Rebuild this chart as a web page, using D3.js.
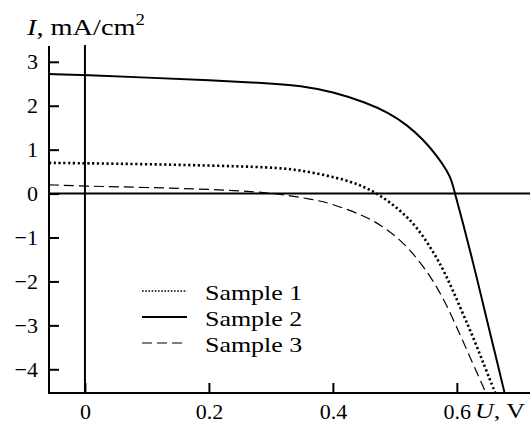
<!DOCTYPE html>
<head>
  <meta charset="utf-8">
  <script src="https://unpkg.com/d3@7/dist/d3.min.js"></script>
  <style>
    body { margin: 0; background: #fff; }
    svg text { font-family: "Liberation Serif", "DejaVu Serif", serif; fill: #000; }
  </style>
</head>
<body>
  <svg width="530" height="424"></svg>
  <script>
    // values: U in V, I in mA/cm2
    var sample1U = [-0.058, 0, 0.1, 0.2, 0.3, 0.347, 0.411, 0.444, 0.476, 0.508, 0.535, 0.562, 0.583, 0.605, 0.626, 0.645, 0.662];
    var sample1I = [0.70, 0.69, 0.67, 0.64, 0.60, 0.54, 0.35, 0.20, -0.03, -0.37, -0.75, -1.32, -1.86, -2.58, -3.26, -3.94, -4.54];

    var sample2U = [-0.058, 0, 0.1, 0.2, 0.3, 0.347, 0.4, 0.454, 0.49, 0.52, 0.545, 0.568, 0.585, 0.592, 0.597, 0.610, 0.624, 0.637, 0.650, 0.664, 0.677];
    var sample2I = [2.72, 2.70, 2.64, 2.58, 2.51, 2.46, 2.32, 2.07, 1.84, 1.56, 1.24, 0.86, 0.50, 0.28, 0, -0.68, -1.45, -2.2, -2.97, -3.77, -4.54];

    var sample3U = [-0.058, 0, 0.1, 0.2, 0.3, 0.374, 0.395, 0.449, 0.48, 0.508, 0.535, 0.562, 0.583, 0.605, 0.626, 0.647];
    var sample3I = [0.20, 0.17, 0.14, 0.10, 0.03, -0.15, -0.22, -0.49, -0.74, -1.04, -1.45, -1.98, -2.52, -3.2, -3.88, -4.54];

    var seriesNames = ["Sample 1", "Sample 2", "Sample 3"];
    var xTicks = [0, 0.2, 0.4, 0.6];
    var yTicks = [-4, -3, -2, -1, 0, 1, 2, 3];

    var svg = d3.select("svg");

    var x = d3.scaleLinear().domain([-0.058, 0.718]).range([49, 530]);
    var y = d3.scaleLinear().domain([-4.54, 3.36]).range([393, 46]);

    var styles = [
      { width: 2.6, dash: "2.2,2.6" },
      { width: 2, dash: null },
      { width: 1.2, dash: "10,5" }
    ];

    var series = [
      d3.zip(sample1U, sample1I),
      d3.zip(sample2U, sample2I),
      d3.zip(sample3U, sample3I)
    ];

    svg.append("clipPath").attr("id", "plot")
      .append("rect")
        .attr("x", 49).attr("y", 30)
        .attr("width", 481).attr("height", 363);

    // zero lines
    svg.append("line")
      .attr("x1", 49).attr("x2", 530)
      .attr("y1", y(0)).attr("y2", y(0))
      .attr("stroke", "#000").attr("stroke-width", 2);
    svg.append("line")
      .attr("x1", x(0)).attr("x2", x(0))
      .attr("y1", 45).attr("y2", 393)
      .attr("stroke", "#000").attr("stroke-width", 2);

    // basis spline smooths the hand-read points
    var line = d3.line()
      .x(function (d) { return x(d[0]); })
      .y(function (d) { return y(d[1]); })
      .curve(d3.curveBasis);

    svg.append("g").attr("clip-path", "url(#plot)")
      .selectAll("path")
      .data(series)
      .enter().append("path")
        .attr("d", line)
        .attr("fill", "none")
        .attr("stroke", "#000")
        .attr("stroke-width", function (d, i) { return styles[i].width; })
        .attr("stroke-dasharray", function (d, i) { return styles[i].dash; });

    // axes, ticks pointing inward
    var xAxis = d3.axisBottom(x)
      .tickValues(xTicks)
      .tickSizeInner(-10).tickSizeOuter(0).tickPadding(10)
      .tickFormat(function (d) { return d === 0 ? "0" : d3.format(".1f")(d); });
    var yAxis = d3.axisLeft(y)
      .tickValues(yTicks)
      .tickSizeInner(-10).tickSizeOuter(0).tickPadding(11)
      .tickFormat(d3.format("d"));

    var gx = svg.append("g").attr("transform", "translate(0,393)").call(xAxis);
    var gy = svg.append("g").attr("transform", "translate(49,0)").call(yAxis);
    gy.select(".domain").attr("d", "M0,46V393");
    gx.select(".domain").attr("d", "M48,0H530");

    [gx, gy].forEach(function (g) {
      g.selectAll(".domain, .tick line").attr("stroke", "#000").attr("stroke-width", 2);
      g.selectAll("text").attr("font-size", 22)
        .attr("font-family", "Liberation Serif, serif").attr("fill", "#000");
    });

    // axis titles (the printed labels are a little wider than the font)
    var yt = svg.append("text").attr("transform", "translate(27,35) scale(1.18,1)").attr("font-size", 24);
    yt.append("tspan").attr("font-style", "italic").text("I");
    yt.append("tspan").text(", mA/cm");
    yt.append("tspan").attr("font-size", 16).attr("dy", -10).text("2");

    var xt = svg.append("text").attr("transform", "translate(475,418) scale(1.18,1)").attr("font-size", 22);
    xt.append("tspan").attr("font-style", "italic").text("U");
    xt.append("tspan").text(", V");

    // legend
    var legend = svg.append("g").selectAll("g")
      .data(seriesNames)
      .enter().append("g")
        .attr("transform", function (d, i) { return "translate(0," + (300 + i * 26) + ")"; });
    legend.append("line")
      .attr("x1", 142).attr("x2", 187)
      .attr("y1", -9).attr("y2", -9)
      .attr("stroke", "#000")
      .attr("stroke-width", function (d, i) { return i === 0 ? 1.6 : styles[i].width; })
      .attr("stroke-dasharray", function (d, i) { return i === 0 ? "1.6,1.6" : styles[i].dash; });
    legend.append("text")
      .attr("transform", "translate(205,0) scale(1.18,1)")
      .attr("font-size", 22)
      .text(function (d) { return d; });
  </script>
</body>
